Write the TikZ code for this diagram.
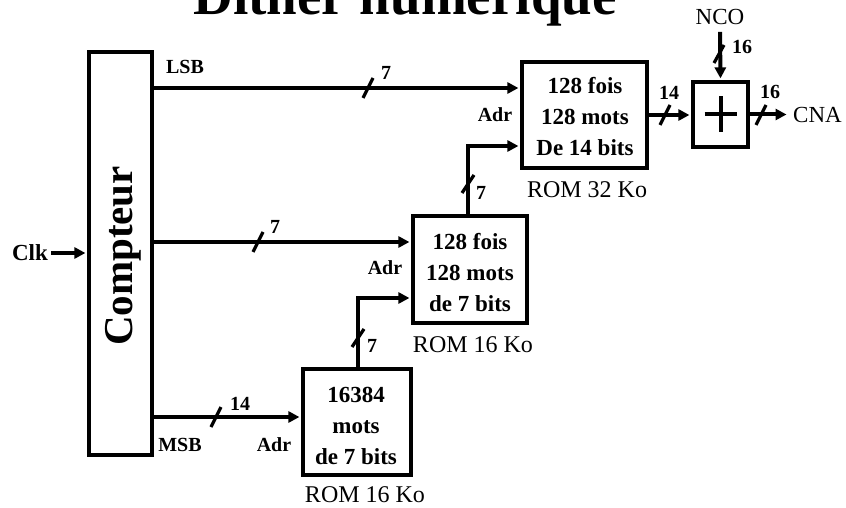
\documentclass[tikz,border=0pt]{standalone}
\usepackage{fontspec}
\setmainfont{Liberation Serif}
\usetikzlibrary{arrows.meta}
\newcommand\setfs[1]{\fontsize{#1}{#1}\selectfont}
\begin{document}
\begin{tikzpicture}[x=1pt,y=-1pt,
  box/.style={draw, line width=4.2pt, rectangle, inner sep=0pt},
  wire/.style={line width=4pt},
  arr/.style={wire, -{Triangle[length=11pt,width=11pt]}, shorten >=1.5pt},
  slash/.style={line width=3.2pt},
  lbl/.style={font=\bfseries\setfs{20}, inner sep=0pt},
  romtxt/.style={font=\bfseries\fontsize{23}{31}\selectfont, align=center, inner sep=0pt},
  romlbl/.style={font=\setfs{24}, inner sep=0pt},
]
\useasboundingbox (0,0) rectangle (846,508);
% title
\node[font=\bfseries\setfs{55}, anchor=base, inner sep=0pt] (title) at (405,15) {Dither numérique};
% boxes
\node[box, minimum width=63pt, minimum height=403pt] (cnt) at (120.5,253.5) {};
\node[font=\bfseries\setfs{41}, rotate=90, anchor=base, inner sep=0pt] (cnttxt) at (132,256) {Compteur};
\node[box, minimum width=125pt, minimum height=106pt] (rom32) at (584.5,115) {};
\node[box, minimum width=114pt, minimum height=107pt] (rom16a) at (470,269.5) {};
\node[box, minimum width=108pt, minimum height=106pt] (rom16b) at (357,422) {};
\node[box, minimum width=55pt, minimum height=65pt] (adder) at (720.5,114.5) {};
\node[romtxt] (rom32t) at (585,117) {128 fois\\128 mots\\De 14 bits};
\node[romtxt] (rom16at) at (470,273) {128 fois\\128 mots\\de 7 bits};
\node[romtxt] (rom16bt) at (356,426) {16384\\mots\\de 7 bits};
\draw[line width=4pt] ([xshift=-16pt]adder.center) -- ([xshift=16pt]adder.center);
\draw[line width=4pt] ([yshift=18pt]adder.center) -- ([yshift=-18pt]adder.center);
% rom labels
\node[romlbl] (l32) at (587,190) {ROM 32 Ko};
\node[romlbl] (l16a) at (473,345) {ROM 16 Ko};
\node[romlbl] (l16b) at (365,495) {ROM 16 Ko};
% io labels
\node[font=\bfseries\setfs{23}, inner sep=3pt] (clk) at (30,253) {Clk};
\node[font=\setfs{23}, inner sep=0pt] (nco) at (720,17) {NCO};
\node[font=\setfs{23}, inner sep=0pt, anchor=west] (cna) at (793,114.5) {CNA};
% wires
\coordinate (r32a) at ([yshift=27pt]rom32.west);
\coordinate (r32b) at ([yshift=-31pt]rom32.west);
\coordinate (r16aa) at ([yshift=27.5pt]rom16a.west);
\coordinate (r16ab) at ([yshift=-28.5pt]rom16a.west);
\coordinate (r16bin) at ([yshift=5pt]rom16b.west);
\draw[arr] (cnt.east |- r32a) -- (r32a);
\draw[arr] (cnt.east |- r16aa) -- (r16aa);
\draw[arr] (cnt.east |- r16bin) -- (r16bin);
\draw[arr] ([xshift=1pt]rom16b.north) |- (r16ab);
\draw[arr] ([xshift=-2pt]rom16a.north) |- (r32b);
\draw[arr] (rom32.east) -- (adder.west |- rom32.east);
\draw[arr] ([yshift=-7pt]nco.south) -- (adder.north);
\draw[arr] (adder.east) -- ([xshift=-5pt]cna.west);
\draw[arr] (clk.east) -- (cnt.west |- clk.east);
% bus slashes
\draw[slash] (368,88) ++(-5,10) -- ++(10,-20);
\draw[slash] (258,242) ++(-5,10) -- ++(10,-20);
\draw[slash] (216,417) ++(-5,10) -- ++(10,-20);
\draw[slash] (358,338) ++(-6,9) -- ++(12,-18);
\draw[slash] (468,184) ++(-6,9) -- ++(12,-18);
\draw[slash] (665,115) ++(-5,10) -- ++(10,-20);
\draw[slash] (719,54) ++(-5,9) -- ++(10,-18);
\draw[slash] (761,115) ++(-5,10) -- ++(10,-20);
% wire labels
\node[lbl] (lsb) at (185,67) {LSB};
\node[lbl] (msb) at (180,445) {MSB};
\node[lbl] (adr1) at (495,115) {Adr};
\node[lbl] (adr2) at (385,268) {Adr};
\node[lbl] (adr3) at (274,445) {Adr};
\node[lbl] (w1) at (386,73) {7};
\node[lbl] (w2) at (275,227) {7};
\node[lbl] (w3) at (240,404) {14};
\node[lbl] (w4) at (372,346) {7};
\node[lbl] (w5) at (481,193) {7};
\node[lbl] (w6) at (669,93) {14};
\node[lbl] (w7) at (742,47) {16};
\node[lbl] (w8) at (770,92) {16};
\end{tikzpicture}
\end{document}
